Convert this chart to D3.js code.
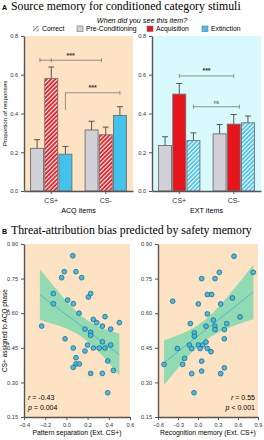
<!DOCTYPE html>
<html>
<head>
<meta charset="utf-8">
<script src="https://cdn.jsdelivr.net/npm/d3@7"></script>
<style>
  body { margin: 0; background: #fff; }
  svg { display: block; font-family: "Liberation Sans", Arial, sans-serif; }
  .axis path, .axis line { stroke: #555; }
  .axis path { stroke-width: 1.4; }
  .axis text { fill: #333; font-size: 5.6px; }
</style>
</head>
<body>
<svg id="chart" width="264" height="440"></svg>
<script>
// ---- panel A data: proportion of responses (mean, sem) ----
const groups = ['CS+', 'CS-'];
const phases = ['Pre-Conditioning', 'Acquisition', 'Extinction'];
const acqMean = [0.22, 0.58, 0.19, 0.315, 0.29, 0.39];
const acqSem  = [0.045, 0.06, 0.04, 0.045, 0.04, 0.045];
const extMean = [0.235, 0.50, 0.26, 0.295, 0.345, 0.352];
const extSem  = [0.045, 0.055, 0.04, 0.048, 0.05, 0.035];
const yTicksA = [0, 0.2, 0.4, 0.6, 0.8];

// ---- panel B data ----
const sepX = [0.06, -0.02, 0.09, -0.045, 0.144, -0.123, -0.123, 0.012, 0.065, 0.207, 0.229, 0.119,
  -0.233, 0.254, 0.286, 0.364, 0.339, 0.418, 0.5, 0.175, 0.229, 0.229, -0.013, 0.339, 0.2, 0.418,
  0.065, 0.254, 0.31, 0.364, 0.175, 0.09, 0.09, 0.122, 0.065, 0.39, 0.229, 0.339, 0.443, 0.39];
const sepY = [0.849, 0.78, 0.78, 0.754, 0.754, 0.685, 0.641, 0.657, 0.641, 0.67, 0.685, 0.60,
  0.544, 0.573, 0.559, 0.585, 0.544, 0.531, 0.559, 0.531, 0.517, 0.504, 0.489, 0.476, 0.462, 0.462,
  0.449, 0.449, 0.449, 0.449, 0.436, 0.407, 0.38, 0.38, 0.365, 0.393, 0.339, 0.339, 0.352, 0.255];
const recX = [0.54, 0.32, 0.83, 0.055, 0.255, 0.14, 0.205, 0.515, -0.38, 0.005, 0.34, 0.14, 0.63,
  0.23, -0.115, 0.43, 0.12, 0.255, 0.255, 0.395, -0.055, -0.055, 0.395, -0.13, 0.005, 0.07, 0.12,
  -0.095, -0.31, 0.03, 0.14, 0.195, -0.2, 0.055, -0.51, -0.23, 0.395, 0.055, -0.095, 0.34, -0.06];
const recY = [0.847, 0.777, 0.777, 0.75, 0.75, 0.681, 0.681, 0.666, 0.652, 0.64, 0.64, 0.597, 0.584,
  0.57, 0.555, 0.555, 0.544, 0.544, 0.529, 0.529, 0.515, 0.50, 0.489, 0.462, 0.462, 0.462, 0.475,
  0.447, 0.447, 0.447, 0.447, 0.433, 0.404, 0.392, 0.378, 0.378, 0.363, 0.349, 0.338, 0.338, 0.255];

// regression fits and 95% bands
const sepBandX  = [-0.25, -0.15, -0.05, 0.05, 0.15, 0.25, 0.35, 0.45, 0.5];
const sepBandLo = [0.570, 0.556, 0.542, 0.523, 0.496, 0.457, 0.410, 0.357, 0.329];
const sepBandHi = [0.790, 0.734, 0.680, 0.629, 0.586, 0.555, 0.534, 0.518, 0.511];
const sepFit    = [[-0.25, 0.68], [0.5, 0.42]];
const recBandX  = [-0.51, -0.35, -0.2, -0.05, 0.1, 0.25, 0.4, 0.55, 0.7, 0.83];
const recBandLo = [0.289, 0.345, 0.396, 0.442, 0.480, 0.508, 0.529, 0.547, 0.562, 0.574];
const recBandHi = [0.482, 0.499, 0.516, 0.539, 0.570, 0.610, 0.657, 0.709, 0.762, 0.810];
const recFit    = [[-0.51, 0.385], [0.83, 0.692]];
const yTicksB = [0.15, 0.30, 0.45, 0.60, 0.75, 0.90];
const sepTicks = [-0.4, -0.2, 0, 0.2, 0.4, 0.6];
const recTicks = [-0.6, -0.3, 0, 0.3, 0.6, 0.9];

const colors = {
  peach: '#fde3c3',
  cyan: '#d8fafd',
  gray: '#d0d0d6',
  red: '#e8141b',
  blue: '#43c2ec',
  outline: '#6d6d70',
  band: '#86d9b0',
  fit: '#4ab3d6',
  dot: '#3ebfe8',
  dotEdge: '#1e5878'
};

const svg = d3.select('#chart');
const defs = svg.append('defs');

function hatch(id, bg, fg) {
  const p = defs.append('pattern')
    .attr('id', id)
    .attr('patternUnits', 'userSpaceOnUse')
    .attr('width', 3).attr('height', 3)
    .attr('patternTransform', 'rotate(45)');
  p.append('rect').attr('width', 3).attr('height', 3).attr('fill', bg);
  p.append('rect').attr('width', 1.2).attr('height', 3).attr('fill', fg);
}
hatch('hatch-red', colors.red, '#fff');
hatch('hatch-blue', colors.blue, '#fff');
hatch('hatch-key', '#fff', '#888');

// ---------- titles ----------
function panelTitle(letter, text, y) {
  svg.append('text').attr('x', 2).attr('y', y)
    .style('font-size', '7px').style('font-weight', 'bold').text(letter);
  svg.append('text').attr('x', 11).attr('y', y)
    .style('font-family', '"Liberation Serif", "DejaVu Serif", serif')
    .style('font-size', '11.8px').text(text);
}
panelTitle('A', 'Source memory for conditioned category stimuli', 10);
panelTitle('B', 'Threat-attribution bias predicted by safety memory', 234);

svg.append('text').attr('x', 142).attr('y', 22.5)
  .attr('text-anchor', 'middle')
  .style('font-size', '7.2px').style('font-style', 'italic')
  .text('When did you see this item?');

// legend
const legendItems = [
  { label: 'Correct', fill: 'url(#hatch-key)', x: 33, stroke: 'none' },
  { label: 'Pre-Conditioning', fill: colors.gray, x: 77, stroke: colors.outline },
  { label: 'Acquisition', fill: colors.red, x: 147, stroke: colors.outline },
  { label: 'Extinction', fill: colors.blue, x: 202, stroke: colors.outline }
];
const lg = svg.append('g').selectAll('g').data(legendItems).join('g')
  .attr('transform', d => `translate(${d.x},26)`);
lg.append('rect').attr('width', 6).attr('height', 5.5)
  .attr('fill', d => d.fill).attr('stroke', d => d.stroke).attr('stroke-width', 0.6);
lg.append('text').attr('x', 9).attr('y', 5)
  .style('font-size', '6.8px').text(d => d.label);

// ---------- panel A bar charts ----------
const yA = d3.scaleLinear().domain([0, 0.8]).range([191, 36]);

function barPanel(x0, x1, bg, means, sems, hatchPhase, hatchId, label, brackets) {
  const g = svg.append('g');
  const xb = d3.scaleBand().domain(groups).range([x0, x1]).paddingInner(0.22).paddingOuter(0.11);
  const xs = d3.scaleBand().domain(phases).range([0, xb.bandwidth()]);

  g.append('rect').attr('x', x0).attr('y', yA(0.8))
    .attr('width', x1 - x0).attr('height', yA(0) - yA(0.8)).attr('fill', bg);

  const rows = [];
  groups.forEach((grp, gi) => phases.forEach((ph, pi) => {
    rows.push({ grp, ph, v: means[gi * 3 + pi], e: sems[gi * 3 + pi] });
  }));

  const fillFor = d => d.ph === hatchPhase ? `url(#${hatchId})`
    : d.ph === 'Pre-Conditioning' ? colors.gray
    : d.ph === 'Acquisition' ? colors.red : colors.blue;

  const cx = d => xb(d.grp) + xs(d.ph) + xs.bandwidth() / 2;

  // error whiskers (upper only)
  g.selectAll('.err').data(rows).join('path')
    .attr('d', d => `M${cx(d)},${yA(d.v)}V${yA(d.v + d.e)}M${cx(d) - 3},${yA(d.v + d.e)}H${cx(d) + 3}`)
    .attr('stroke', '#555').attr('stroke-width', 1).attr('fill', 'none');

  g.selectAll('.bar').data(rows).join('rect')
    .attr('x', d => xb(d.grp) + xs(d.ph) + 0.6)
    .attr('y', d => yA(d.v))
    .attr('width', xs.bandwidth() - 1.2)
    .attr('height', d => yA(0) - yA(d.v))
    .attr('fill', fillFor)
    .attr('stroke', colors.outline).attr('stroke-width', 0.9);

  // significance brackets
  const bx = (grp, pos) => xb(grp) + pos * xs.bandwidth();
  brackets.forEach(b => {
    const xa = bx(b.from[0], b.from[1]);
    const xc = bx(b.to[0], b.to[1]);
    const y = yA(b.y);
    let d = `M${xa},${y}H${xc}M${xc},${y - 2}V${y + 2}`;
    d += b.leg != null ? `M${xa},${y}V${yA(b.leg)}` : `M${xa},${y - 2}V${y + 2}`;
    if (b.mid) d += `M${bx(b.mid[0], b.mid[1])},${y - 2}V${y + 2}`;
    g.append('path').attr('d', d).attr('stroke', '#777').attr('stroke-width', 0.8).attr('fill', 'none');
    g.append('text').attr('x', (xa + xc) / 2).attr('y', y - 2.5)
      .attr('text-anchor', 'middle')
      .style('font-size', b.label === 'ns' ? '5px' : '7px')
      .style('font-weight', b.label === 'ns' ? 'normal' : 'bold')
      .attr('fill', '#333')
      .text(b.label);
  });

  g.append('g').attr('class', 'axis')
    .attr('transform', `translate(${x0},0)`)
    .call(d3.axisLeft(yA).tickValues(yTicksA).tickFormat(d3.format('.1f')).tickSize(3).tickSizeOuter(0));

  const ax = g.append('g').attr('class', 'axis')
    .attr('transform', `translate(0,${yA(0)})`)
    .call(d3.axisBottom(xb).tickSize(3).tickSizeOuter(0));
  ax.selectAll('text').style('font-size', '7px').attr('dy', '0.9em');

  g.append('text').attr('x', (x0 + x1) / 2).attr('y', 213)
    .attr('text-anchor', 'middle').style('font-size', '7.2px').text(label);
}

barPanel(24, 133, colors.peach, acqMean, acqSem, 'Acquisition', 'hatch-red', 'ACQ items', [
  { from: ['CS+', 0.7], to: ['CS-', 1.2], mid: ['CS+', 1.5], y: 0.675, label: '***' },
  { from: ['CS+', 2.5], to: ['CS-', 2.5], leg: 0.418, y: 0.507, label: '***' }
]);
barPanel(152, 261, colors.cyan, extMean, extSem, 'Extinction', 'hatch-blue', 'EXT items', [
  { from: ['CS+', 1.5], to: ['CS-', 1.5], y: 0.594, label: '***' },
  { from: ['CS+', 2.5], to: ['CS-', 1.9], y: 0.435, label: 'ns' }
]);

svg.append('text')
  .attr('transform', `translate(7,${yA(0.4)}) rotate(-90)`)
  .attr('text-anchor', 'middle').style('font-size', '6.2px')
  .text('Proportion of responses');

// ---------- panel B scatter plots ----------
const yB = d3.scaleLinear().domain([0.15, 0.90]).range([417, 244]);

function scatterPanel(xDomain, xRange, ticks, xs, ys, bandX, lo, hi, fit, xLabel, stats, statsRight) {
  const g = svg.append('g');
  const x = d3.scaleLinear().domain(xDomain).range(xRange);

  g.append('rect').attr('x', xRange[0]).attr('y', yB(0.9))
    .attr('width', xRange[1] - xRange[0]).attr('height', yB(0.15) - yB(0.9))
    .attr('fill', colors.peach);

  const band = bandX.map((v, i) => ({ x: v, lo: lo[i], hi: hi[i] }));
  g.append('path').datum(band)
    .attr('d', d3.area().x(d => x(d.x)).y0(d => yB(d.lo)).y1(d => yB(d.hi)).curve(d3.curveMonotoneX))
    .attr('fill', colors.band).attr('fill-opacity', 0.9);
  g.append('path').datum(fit)
    .attr('d', d3.line().x(d => x(d[0])).y(d => yB(d[1])))
    .attr('stroke', colors.fit).attr('stroke-width', 0.9).attr('fill', 'none');

  g.selectAll('circle').data(xs.map((v, i) => [v, ys[i]])).join('circle')
    .attr('cx', d => x(d[0])).attr('cy', d => yB(d[1])).attr('r', 2.4)
    .attr('fill', colors.dot).attr('stroke', colors.dotEdge).attr('stroke-width', 0.7);

  g.append('g').attr('class', 'axis')
    .attr('transform', `translate(${xRange[0]},0)`)
    .call(d3.axisLeft(yB).tickValues(yTicksB).tickFormat(d3.format('.2f')).tickSize(3).tickSizeOuter(0));
  g.append('g').attr('class', 'axis')
    .attr('transform', `translate(0,${yB(0.15)})`)
    .call(d3.axisBottom(x).tickValues(ticks).tickFormat(d3.format('.1f')).tickSize(3).tickSizeOuter(0));

  g.append('text').attr('x', (xRange[0] + xRange[1]) / 2).attr('y', 435)
    .attr('text-anchor', 'middle').style('font-size', '6.8px').text(xLabel);

  const sx = statsRight ? xRange[1] - 3 : xRange[0] + 4;
  const st = g.append('g').style('font-size', '7px').attr('text-anchor', statsRight ? 'end' : 'start');
  stats.forEach((s, i) => {
    const t = st.append('text').attr('x', sx).attr('y', 400 + i * 9.5);
    t.append('tspan').style('font-style', 'italic').text(s[0]);
    t.append('tspan').text(s[1]);
  });
}

scatterPanel([-0.4, 0.6], [24, 130], sepTicks, sepX, sepY, sepBandX, sepBandLo, sepBandHi, sepFit,
  'Pattern separation (Ext. CS+)', [['r', ' = -0.43'], ['p', ' = 0.004']], false);
scatterPanel([-0.6, 0.9], [158, 258], recTicks, recX, recY, recBandX, recBandLo, recBandHi, recFit,
  'Recognition memory (Ext. CS+)', [['r', ' = 0.55'], ['p', ' < 0.001']], true);

svg.append('text')
  .attr('transform', `translate(7,${yB(0.525)}) rotate(-90)`)
  .attr('text-anchor', 'middle').style('font-size', '6.5px')
  .text('CS+ assigned to ACQ phase');
</script>
</body>
</html>
